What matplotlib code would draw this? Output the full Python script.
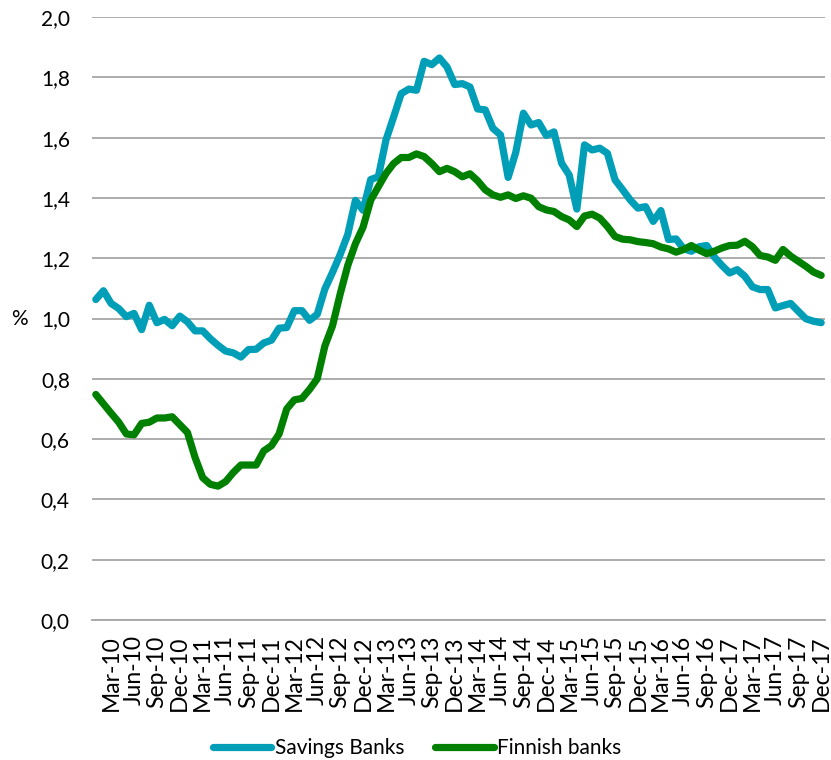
import matplotlib
matplotlib.use("Agg")
import matplotlib.pyplot as plt
import numpy as np

months = np.arange(96)  # Jan-10 .. Dec-17, monthly

savings_banks = [
    1.063, 1.092, 1.050, 1.033, 1.006, 1.017, 0.963, 1.044, 0.986, 0.997,
    0.976, 1.008, 0.989, 0.959, 0.959, 0.933, 0.911, 0.892, 0.886, 0.872,
    0.897, 0.898, 0.919, 0.928, 0.968, 0.970, 1.026, 1.026, 0.994, 1.014,
    1.098, 1.153, 1.212, 1.279, 1.392, 1.359, 1.461, 1.470, 1.592, 1.668,
    1.746, 1.761, 1.757, 1.853, 1.842, 1.864, 1.834, 1.776, 1.779, 1.768,
    1.695, 1.692, 1.631, 1.609, 1.468, 1.551, 1.681, 1.642, 1.650, 1.607,
    1.619, 1.515, 1.476, 1.363, 1.576, 1.559, 1.565, 1.548, 1.460, 1.427,
    1.393, 1.366, 1.371, 1.322, 1.358, 1.262, 1.264, 1.231, 1.223, 1.238,
    1.242, 1.204, 1.176, 1.151, 1.162, 1.140, 1.105, 1.096, 1.096, 1.035,
    1.043, 1.050, 1.024, 0.999, 0.991, 0.986]

finnish_banks = [
    0.748, 0.717, 0.686, 0.656, 0.617, 0.614, 0.652, 0.656, 0.670, 0.670,
    0.674, 0.648, 0.622, 0.539, 0.472, 0.450, 0.444, 0.459, 0.489, 0.514,
    0.514, 0.514, 0.561, 0.578, 0.617, 0.700, 0.730, 0.735, 0.765, 0.800,
    0.909, 0.976, 1.081, 1.176, 1.248, 1.303, 1.392, 1.437, 1.481, 1.514,
    1.534, 1.534, 1.546, 1.537, 1.514, 1.487, 1.498, 1.487, 1.470, 1.480,
    1.457, 1.427, 1.410, 1.402, 1.410, 1.398, 1.407, 1.399, 1.371, 1.360,
    1.355, 1.338, 1.327, 1.305, 1.340, 1.346, 1.333, 1.305, 1.272, 1.263,
    1.261, 1.255, 1.252, 1.248, 1.237, 1.231, 1.220, 1.229, 1.242, 1.227,
    1.215, 1.223, 1.234, 1.242, 1.243, 1.256, 1.238, 1.209, 1.204, 1.193,
    1.229, 1.207, 1.190, 1.173, 1.154, 1.143]

tick_labels = [
    "Mar-10", "Jun-10", "Sep-10", "Dec-10", "Mar-11", "Jun-11", "Sep-11", "Dec-11",
    "Mar-12", "Jun-12", "Sep-12", "Dec-12", "Mar-13", "Jun-13", "Sep-13", "Dec-13",
    "Mar-14", "Jun-14", "Sep-14", "Dec-14", "Mar-15", "Jun-15", "Sep-15", "Dec-15",
    "Mar-16", "Jun-16", "Sep-16", "Dec-17", "Mar-17", "Jun-17", "Sep-17", "Dec-17"]
tick_positions = np.arange(2, 96, 3)

y_ticks = [0.0, 0.2, 0.4, 0.6, 0.8, 1.0, 1.2, 1.4, 1.6, 1.8, 2.0]

plt.rcParams['font.family'] = ['Lato', 'DejaVu Sans']
FS = 15
FSX = 16.5

fig = plt.figure(figsize=(8.31, 7.60), dpi=100)
ax = fig.add_axes([92/831, 1 - 620/760, (825 - 92)/831, (620 - 17)/760])

ax.plot(months, savings_banks, color='#009fb7', lw=5.2, label='Savings Banks',
        solid_joinstyle='round', solid_capstyle='round')
ax.plot(months, finnish_banks, color='#008000', lw=5.2, label='Finnish banks',
        solid_joinstyle='round', solid_capstyle='round')

ax.set_xlim(-0.5, 95.5)
ax.set_ylim(0, 2.0)
ax.set_yticks(y_ticks)
ax.set_yticklabels([f"{v:.1f}".replace('.', ',') for v in y_ticks], fontsize=FS)
ax.set_xticks(tick_positions)
ax.set_xticklabels(tick_labels, rotation=90, fontsize=FSX, va='top', ha='center')
ax.tick_params(axis='both', length=0)
ax.tick_params(axis='y', pad=16)
ax.tick_params(axis='x', pad=11)

ax.grid(axis='y', color='#a6a6a6', lw=1.3)
ax.set_axisbelow(True)
for s in ['left', 'right', 'top']:
    ax.spines[s].set_visible(False)
ax.spines['bottom'].set_color('#a6a6a6')
ax.spines['bottom'].set_linewidth(1.3)

fig.text(19/831, 1 - 319/760, '%', fontsize=FS, ha='center', va='center')

leg = fig.legend(loc='center', bbox_to_anchor=(417/831, 1 - 748/760), ncol=2,
                 frameon=False, fontsize=FS, handlelength=2.8, handletextpad=0.15,
                 columnspacing=1.5)

fig.savefig('out.png', dpi=100)
